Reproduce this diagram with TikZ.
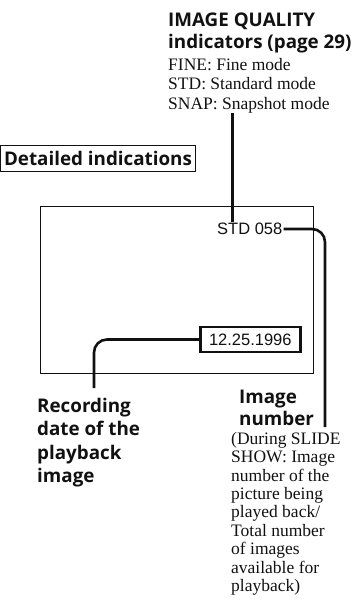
\documentclass[tikz,border=0pt]{standalone}
\usepackage{fontspec}
\setmainfont{Liberation Serif}
\setsansfont{Open Sans}
\newfontfamily\lcdfont{Liberation Sans}
\usepackage{tikz}
\usetikzlibrary{positioning}
\setlength{\lineskiplimit}{-20pt}
\definecolor{mnink}{HTML}{111111}
\tikzset{
  head/.style={anchor=north west,inner sep=0pt,align=left,text=mnink,
               font=\sffamily\bfseries\fontsize{18.8}{22.2}\selectfont},
  note/.style={anchor=north west,inner sep=0pt,align=left,text=mnink,
               font=\fontsize{17.5}{19.6}\selectfont},
  lcd/.style={inner sep=1pt,text=mnink,font=\lcdfont\fontsize{16.5}{18}\selectfont},
  datebox/.style={lcd,draw=mnink,line width=2.4pt,minimum width=100pt,minimum height=25pt},
  tagbox/.style={draw=mnink,line width=0.8pt,minimum width=188pt,minimum height=26pt,
                 text=mnink,font=\sffamily\bfseries\fontsize{18.8}{22}\selectfont},
  screen/.style={draw=mnink,line width=0.9pt,minimum width=273pt,minimum height=167pt},
  lead/.style={draw=mnink,line width=2.6pt,rounded corners=13pt},
}

\begin{document}
\begin{tikzpicture}[x=1pt,y=-1pt]
  \useasboundingbox (0,0) rectangle (356,613);
  \node[screen] (screen) at (176.5,289.5) {};
  \node[tagbox] (detail) at (98,158) {Detailed indications};
  \node[head] (quality) at (168,12.7) {IMAGE QUALITY\\indicators (page 29)};
  \node[note] (modes) at (168,58) {FINE: Fine mode\\STD: Standard mode\\SNAP: Snapshot mode};
  \node[lcd,anchor=west] (std) at (216,229) {STD 058};
  \node[datebox] (date) at (250.3,339.5) {12.25.1996};
  \node[head,font=\sffamily\bfseries\fontsize{18.8}{23.5}\selectfont] (recdate) at (37,398)
    {Recording\\date of the\\playback\\image};
  \node[head] (imgno) at (239,390) {Image\\number};
  \node[note,font=\fontsize{17.5}{18.4}\selectfont] (slide) at (231,432)
    {(During SLIDE\\SHOW: Image\\number of the\\picture being\\played back/\\Total number\\of images\\available for\\playback)};
  \coordinate (qtop) at (232.7,113);
  \coordinate (nbot) at (325,427);
  \coordinate (dbot) at (94,388);
  \draw[lead] (qtop) -- (qtop |- std.north);
  \draw[lead] (std.east) -| (nbot);
  \draw[lead] (date.west) -| (dbot);
\end{tikzpicture}
\end{document}
